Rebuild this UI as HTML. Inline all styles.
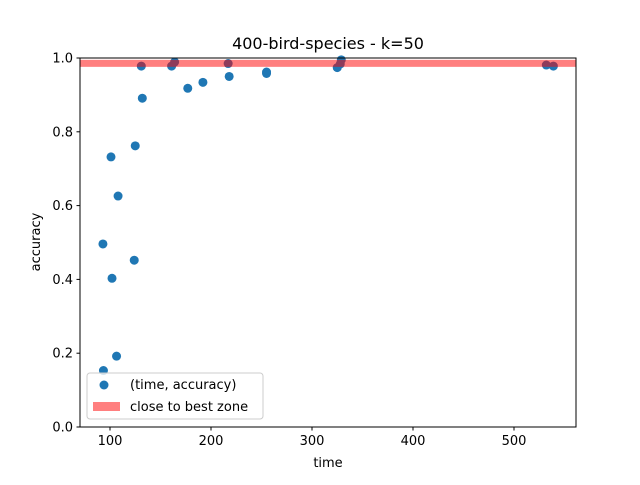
<!DOCTYPE html>
<html><head><meta charset="utf-8"><style>
body{margin:0;background:#fff;font-family:"Liberation Sans","DejaVu Sans",sans-serif}
</style></head><body>
<svg width="640" height="480" xmlns="http://www.w3.org/2000/svg" font-family="DejaVu Sans, Liberation Sans, sans-serif">
<rect width="640" height="480" fill="#fff"/>
<text x="328" y="49" font-size="16" text-anchor="middle">400-bird-species - k=50</text>
<g id="pts"></g>
<rect x="80" y="58" width="496" height="369" fill="none" stroke="#000" stroke-width="1"/>
<g id="xt"></g><g id="yt"></g>
<text x="328" y="467" font-size="13" text-anchor="middle">time</text>
<text transform="translate(40,242) rotate(-90)" font-size="13" text-anchor="middle">accuracy</text>
<g>
<rect x="87" y="373" width="176" height="46" rx="3" fill="#fff" fill-opacity="0.8" stroke="#ccc"/>
<circle cx="104" cy="385" r="4.5" fill="#1f77b4"/>
<text x="130" y="389" font-size="13">(time, accuracy)</text>
<rect x="93" y="402" width="27" height="9" fill="#ff0000" fill-opacity="0.5"/>
<text x="130" y="411" font-size="13">close to best zone</text>
</g>
</svg>
<script>
const times=[93.5,106.5,102,124,93,108,101,125,132,131,161,164,177,192,218,217,255,255,325,328,329,532,539];
const accs=[0.153,0.192,0.403,0.452,0.496,0.626,0.732,0.762,0.891,0.978,0.978,0.989,0.918,0.934,0.950,0.985,0.962,0.958,0.974,0.984,0.995,0.981,0.978];
const zoneRange=[0.976,0.995];
const xTicks=[100,200,300,400,500];
const yTicks=[0,0.2,0.4,0.6,0.8,1.0];
const yTickLabels=["0.0","0.2","0.4","0.6","0.8","1.0"];
const X0=80,X1=576,Y0=427,Y1=58,xmin=70.3,xmax=561.4;
const sx=v=>X0+(v-xmin)/(xmax-xmin)*(X1-X0);
const sy=v=>Y0-v*(Y0-Y1);
const NS="http://www.w3.org/2000/svg";
function mk(t,a,p){const e=document.createElementNS(NS,t);for(const k in a)e.setAttribute(k,a[k]);p.appendChild(e);return e;}
const pts=document.getElementById('pts');
times.forEach((t,i)=>{const c=mk('circle',{cx:sx(t),cy:sy(accs[i]),r:4.5,fill:'#1f77b4'},pts);

});
const z=mk('rect',{x:X0,y:sy(zoneRange[1]),width:X1-X0,height:sy(zoneRange[0])-sy(zoneRange[1]),fill:'#ff0000','fill-opacity':0.5},pts);


const xt=document.getElementById('xt');
xTicks.forEach(v=>{const x=sx(v);mk('line',{x1:x,x2:x,y1:Y0,y2:Y0+3.5,stroke:'#000'},xt);
const t=mk('text',{x:x,y:Y0+18,'font-size':13,'text-anchor':'middle'},xt);t.textContent=v;

});
const yt=document.getElementById('yt');
yTicks.forEach((v,i)=>{const y=sy(v);mk('line',{x1:X0-3.5,x2:X0,y1:y,y2:y,stroke:'#000'},yt);
const t=mk('text',{x:X0-7,y:y+4.5,'font-size':13,'text-anchor':'end'},yt);t.textContent=yTickLabels[i];

});
</script>
</body></html>
